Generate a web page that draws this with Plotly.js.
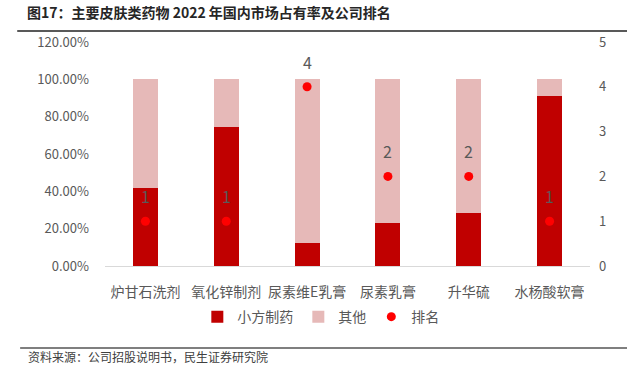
<!DOCTYPE html>
<html>
<head>
<meta charset="utf-8">
<script src="https://cdn.plot.ly/plotly-3.0.1.min.js"></script>
<style>html,body{margin:0;padding:0;background:#fff;}#chart{width:627px;height:367px;}</style>
</head>
<body>
<div id="chart"></div>
<script>
var categories = ['炉甘石洗剂', '氧化锌制剂', '尿素维E乳膏', '尿素乳膏', '升华硫', '水杨酸软膏'];
var shareXiaofang = [0.42, 0.743, 0.125, 0.232, 0.286, 0.91];
var shareOther = shareXiaofang.map(function(v){ return 1 - v; });
var rank = [1, 1, 4, 2, 2, 1];
var rankLabels = ['1', '1', '4', '2', '2', '1'];

var font = '"Noto Sans CJK SC", "Microsoft YaHei", sans-serif';
var traces = [
  {type:'bar', name:'小方制药', x:categories, y:shareXiaofang, marker:{color:'#C00000'}, width:0.31, hoverinfo:'none'},
  {type:'bar', name:'其他', x:categories, y:shareOther, marker:{color:'#E6B9B8'}, width:0.31, hoverinfo:'none'},
  {type:'scatter', name:'排名', mode:'markers', x:categories, y:rank, yaxis:'y2',
   marker:{color:'#FF0000', size:9}, hoverinfo:'none'}
];
var annotations = categories.map(function(c, i){
  return {x:c, y:rank[i], xref:'x', yref:'y2', text:rankLabels[i], showarrow:false, yshift:25,
          font:{size:16, color:'#595959', family:font}};
});
annotations.push({text:'资料来源：公司招股说明书，民生证券研究院', xref:'paper', yref:'paper', x:-0.162, y:-0.405,
  xanchor:'left', yanchor:'middle', showarrow:false, font:{size:12, color:'#404040'}});

var layout = {
  width:627, height:367,
  margin:{l:105, r:37, t:42, b:101},
  barmode:'stack',
  paper_bgcolor:'#fff', plot_bgcolor:'#fff',
  font:{family:font, color:'#595959', size:13},
  showlegend:true,
  legend:{orientation:'h', x:0.445, xanchor:'center', y:-0.228, yanchor:'middle',
          font:{size:14, color:'#595959'}, traceorder:'normal', itemwidth:30},
  title:{text:'<b>图17：主要皮肤类药物 2022 年国内市场占有率及公司排名</b>', x:0.043, xref:'container', xanchor:'left',
         y:0.965, yref:'container', yanchor:'middle', font:{size:14, color:'#262626', family:font}},
  xaxis:{showline:true, linecolor:'#D9D9D9', linewidth:1, ticks:'', showgrid:false,
         tickfont:{size:14, color:'#595959'}, ticklabelstandoff:13},
  yaxis:{range:[0,1.2], dtick:0.2, tickformat:'.2%', showgrid:false, zeroline:false,
         tickfont:{size:13, color:'#595959'}, ticklabelstandoff:15},
  yaxis2:{range:[0,5], dtick:1, overlaying:'y', side:'right', showgrid:false, zeroline:false,
          tickfont:{size:13, color:'#595959'}, ticklabelstandoff:8},
  shapes:[
    {type:'line', xref:'paper', yref:'paper', x0:-0.181, x1:1.08, y0:1.049, y1:1.049, line:{color:'#595959', width:2}},
    {type:'line', xref:'paper', yref:'paper', x0:-0.175, x1:1.08, y0:-0.366, y1:-0.366, line:{color:'#7F7F7F', width:2}}
  ],
  annotations:annotations
};
Plotly.newPlot('chart', traces, layout, {displayModeBar:false, staticPlot:true});
</script>
</body>
</html>
